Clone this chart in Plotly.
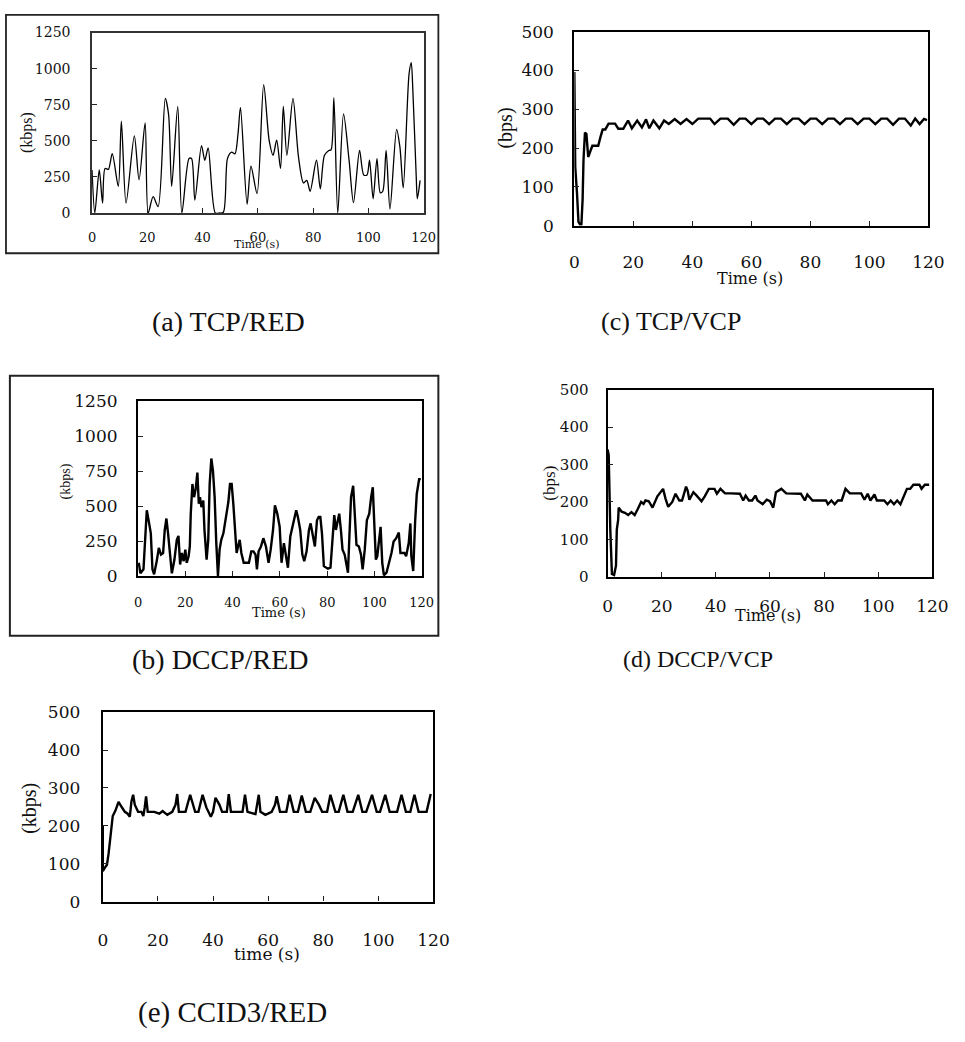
import plotly.graph_objects as go

W, H = 965, 1042

# ---------------- data ----------------
# (a) TCP/RED
a_t = [0, 1, 2.6, 3.8, 4.7, 5.9, 7.3, 9.5, 10.6, 12.3, 15.3, 17, 19.2, 20.3, 22.1, 23.9, 26.5, 27.7, 28.8,
       31, 32.5, 35.1, 36, 37.2, 39.6, 40.8, 42, 44.6, 46, 47.5, 49, 50.5, 51.7, 52.8, 53.7, 56.1, 57.5, 59.7,
       62.1, 64.1, 65.5, 66.8, 68.2, 69.2, 70.5, 72.7, 74.7, 76.5, 77.7, 78.9, 81.2, 82.6, 84.1, 85.7, 86.5,
       87.5, 88.9, 91, 93, 94.6, 96.8, 98.3, 99.5, 100.4, 101.7, 103.1, 104.3, 105.2, 106.4, 107.8, 110.2,
       111.4, 112.6, 114.7, 115.5, 116.1, 117.3, 117.7, 118.7]
a_v = [298, 0, 298, 68, 309, 302, 411, 185, 636, 68, 535, 230, 625, 0, 113, 45, 794, 681, 185,
       738, 0, 377, 377, 90, 467, 365, 451, 0, 0, 5, 377, 422, 410, 546, 731, 61, 325, 135,
       889, 501, 400, 505, 309, 738, 400, 794, 388, 208, 226, 151, 366, 167, 400, 433, 438,
       799, 0, 686, 366, 72, 433, 264, 264, 366, 99, 377, 140, 151, 433, 27, 580,
       456, 174, 963, 1042, 839, 253, 99, 226]

# (b) DCCP/RED
b_t = [0.3, 1, 2.3, 3, 3.7, 4.7, 5.4, 6.1, 6.8, 7.9, 8.8, 9.7, 10.6, 11.3, 12, 12.7, 13.8, 14.3, 15.4, 16.4,
       17.1, 17.8, 18.5, 19.3, 20, 20.6, 21.4, 21.9, 22.3, 23, 23.7, 24.4, 25.1, 25.7, 26.2, 26.8, 27.6, 28.1,
       29, 29.7, 30.3, 31, 31.7, 32.4, 33.1, 33.8, 34.5, 35.2, 36.1, 37.2, 38.2, 38.9, 39.6, 40.3, 41, 41.7,
       42.3, 43, 43.7, 44.7, 45.8, 46.9, 47.9, 48.8, 49.7, 50.3, 51, 52, 53, 54.1, 55.2, 56.1, 57.1, 57.9,
       58.9, 59.9, 60.7, 61.7, 62.6, 63.4, 64.4, 65.1, 66.2, 66.9, 67.6, 68.6, 69.5, 70.3, 71.3, 72.3, 73,
       73.7, 74.8, 75.7, 76.4, 77.1, 77.8, 78.6, 80.3, 81.4, 82.3, 83, 83.7, 84.4, 85.1, 85.8, 86.5, 87.4,
       88.8, 89.4, 90.1, 91, 91.7, 92.4, 93.4, 94.3, 95, 95.9, 96.8, 97.8, 98.6, 99.3, 99.9, 100.6, 101.2,
       101.9, 102.6, 103.3, 104, 105.1, 106.2, 107.2, 108.1, 109.2, 110.3, 111, 112.7, 113.4, 114.5, 115.2,
       115.6, 116.4, 117.2, 117.9, 118.9, 119.6]
b_v = [94, 19, 47, 305, 470, 376, 305, 47, 12, 106, 200, 153, 164, 329, 411, 305, 94, 19, 117, 258,
       287, 82, 164, 106, 188, 94, 141, 211, 446, 658, 564, 623, 740, 517, 564, 493, 540, 329,
       117, 258, 658, 841, 752, 564, 235, 0, 188, 258, 305, 423, 529, 658, 658, 517, 352, 164,
       211, 258, 164, 94, 94, 94, 176, 176, 153, 47, 176, 211, 270, 211, 94, 188, 329, 505,
       446, 352, 94, 235, 141, 59, 282, 329, 423, 470, 423, 329, 153, 106, 176, 329, 376,
       305, 211, 399, 423, 423, 305, 70, 52, 59, 258, 435, 329, 399, 446, 329, 188, 153,
       23, 282, 564, 646, 423, 223, 211, 153, 47, 188, 399, 446, 564, 635, 388, 117, 141,
       235, 352, 94, 5, 23, 94, 164, 247, 270, 310, 164, 164, 141, 235, 376,
       141, 35, 388, 587, 693, 693]

# (c) TCP/VCP
c_t = [0, 0.3, 0.9, 1.4, 1.9, 2.4, 2.8, 3.1, 3.6, 4.1, 4.7, 5.5, 6.1, 7.2, 8.1, 8.8, 9.6, 10.5, 11.6, 12.7,
       13.8, 14.9, 16.6, 18.2, 19.5, 21.3, 22.9, 24.3, 25.4, 26.8, 28.8, 30.4, 32, 34, 36, 38, 40, 42, 44,
       46, 47.5, 49.5, 52, 54, 56, 58, 60, 62, 64, 66, 68, 70, 72, 74, 76, 78, 80, 82, 84, 86, 88, 90, 92,
       94, 96, 98, 100, 102, 104, 106, 108, 110, 112, 114, 115.5, 117, 118.5, 119.5]
c_v = [396, 152, 84, 10, 4, 4, 67, 168, 240, 236, 177, 194, 206, 206, 206, 227, 248, 248, 263, 263,
       263, 250, 250, 271, 251, 271, 253, 274, 251, 271, 251, 271, 262, 275, 262, 275, 262, 276, 276,
       276, 262, 276, 276, 260, 276, 276, 262, 276, 276, 262, 276, 276, 262, 276, 276, 262, 276, 276,
       262, 276, 276, 262, 276, 276, 262, 276, 276, 262, 276, 276, 260, 276, 276, 258, 276, 262, 275, 272]

# (d) DCCP/VCP
d_t = [0, 0.4, 1, 1.6, 2.4, 3.1, 3.4, 3.9, 4.1, 5.2, 6.4, 7.6, 8.8, 10, 11.2, 12.4, 13.3, 14, 15.2, 16.6,
       18.4, 20.5, 21.4, 22.4, 23.9, 25.1, 26.5, 27.5, 29, 29.6, 30.2, 31.7, 32.9, 34.7, 35.9, 37.4, 39.5,
       40.4, 41.7, 43.4, 45.5, 48.9, 50.1, 51, 52.2, 53.4, 54.6, 55.4, 57.3, 58.8, 60, 61.2, 62.2, 64.2,
       66, 69.6, 71.4, 72.9, 73.8, 75.7, 78.1, 80.7, 81.4, 82.7, 83.9, 85.1, 86.5, 87.9, 89.5, 92.5, 93.7,
       94.9, 96.1, 97.1, 98.6, 99.5, 102.2, 103.4, 104.6, 105.8, 107, 108.2, 109.4, 110.6, 111.8, 113,
       115.2, 116, 117.2, 118.8]
d_v = [340, 326, 126, 8, 5, 30, 126, 152, 185, 174, 171, 165, 173, 165, 182, 200, 195, 204, 202, 185,
       215, 235, 209, 187, 200, 222, 204, 204, 241, 230, 206, 226, 217, 202, 215, 235, 235,
       222, 235, 223, 223, 222, 204, 217, 204, 204, 217, 204, 194, 206, 202, 185, 226, 235,
       223, 223, 222, 204, 220, 204, 204, 204, 194, 204, 194, 204, 204, 235, 223, 223, 223,
       206, 222, 204, 220, 204, 204, 194, 204, 194, 204, 194, 215, 235, 235, 246,
       246, 235, 246, 246]

# (e) CCID3/RED
e_t = [0, 0, 0.7, 1.5, 2.1, 2.7, 3.1, 3.6, 4.5, 5.7, 6.9, 8, 9, 9.8, 10.4, 11, 11.6, 12.8, 14, 14.7, 15.2,
       15.7, 16.3, 18.7, 20.5, 21.7, 23.4, 25.2, 26.4, 27, 27.6, 30, 31.7, 33.5, 34.7, 36.2, 37.6, 39.2, 40,
       40.9, 42.3, 43.3, 45, 45.7, 46.5, 50.7, 51.6, 52.5, 55.4, 56.6, 57.2, 59, 61.3, 62.5, 63.1, 64.3,
       66.6, 67.8, 69.3, 70.8, 72.2, 73.7, 75.3, 76.9, 78.4, 79.6, 81.4, 82.6, 84.4, 85.6, 87.3, 88.8,
       90.7, 92.7, 94.2, 95.6, 97.7, 99.4, 100.6, 102.5, 104.1, 106.8, 108.4, 110, 111.6, 113.1, 114.6,
       117.5, 119]
e_v = [200, 80, 89, 97, 127, 170, 200, 226, 239, 263, 249, 237, 232, 224, 265, 282, 256, 237, 237, 226, 248,
       278, 237, 237, 232, 239, 229, 237, 256, 284, 237, 237, 282, 237, 237, 282, 248, 224, 237,
       274, 256, 237, 237, 284, 237, 237, 282, 237, 231, 282, 237, 229, 237, 256, 278, 237,
       237, 282, 237, 237, 280, 237, 237, 274, 256, 237, 237, 282, 237, 237, 282, 237,
       237, 282, 237, 237, 282, 237, 237, 282, 237, 237, 282, 237, 237, 282, 237,
       237, 284]

x_ticks = [0, 20, 40, 60, 80, 100, 120]
y_ticks_red = [0, 250, 500, 750, 1000, 1250]
y_ticks_vcp = [0, 100, 200, 300, 400, 500]

# ---------------- layout helpers ----------------
def px_x(x0, x1):
    return [x0 / W, x1 / W]

def px_y(top, bottom):
    return [1 - bottom / H, 1 - top / H]

SERIF = "Liberation Serif"
DSERIF = "DejaVu Serif"

panels = [
    dict(t=a_t, v=a_v, xd=px_x(89, 428), yd=px_y(23, 207), yt=y_ticks_red, ymax=1250, lw=1.3,
         bw=1.5, bc="#333", xf=13, yf=14, xs=12, ys=17, shape="spline"),
    dict(t=b_t, v=b_v, xd=px_x(136, 426), yd=px_y(399, 577), yt=y_ticks_red, ymax=1250, lw=2.4,
         bw=2.2, bc="#000", xf=13, yf=17, xs=13, ys=15, shape="linear"),
    dict(t=c_t, v=c_v, xd=px_x(582, 944), yd=px_y(22, 220), yt=y_ticks_vcp, ymax=500, lw=2.4,
         bw=2.2, bc="#000", xf=17, yf=17, xs=20, ys=15, shape="linear"),
    dict(t=d_t, v=d_v, xd=px_x(616, 948), yd=px_y(387, 578), yt=y_ticks_vcp, ymax=500, lw=2.4,
         bw=2.2, bc="#000", xf=17, yf=15, xs=13, ys=14, shape="linear"),
    dict(t=e_t, v=e_v, xd=px_x(100, 438), yd=px_y(716, 909), yt=y_ticks_vcp, ymax=500, lw=2.4,
         bw=2.2, bc="#000", xf=17, yf=17, xs=22, ys=17, shape="linear"),
]

fig = go.Figure()
layout = dict(width=W, height=H, margin=dict(l=0, r=0, t=0, b=0),
              paper_bgcolor="white", plot_bgcolor="white", showlegend=False)

for i, p in enumerate(panels, start=1):
    xa = "x" if i == 1 else f"x{i}"
    ya = "y" if i == 1 else f"y{i}"
    fig.add_trace(go.Scatter(x=p["t"], y=p["v"], mode="lines", xaxis=xa, yaxis=ya,
                             line=dict(color="black", width=p["lw"], shape=p["shape"], smoothing=0.8)))
    xkey = "xaxis" if i == 1 else f"xaxis{i}"
    ykey = "yaxis" if i == 1 else f"yaxis{i}"
    layout[xkey] = dict(domain=p["xd"], anchor=ya, range=[0, 120], tickvals=x_ticks,
                        ticks="inside", ticklen=5, tickwidth=1.2, tickcolor="#222",
                        showline=True, mirror=True, linecolor=p["bc"], linewidth=p["bw"],
                        showgrid=False, zeroline=False, ticklabelstandoff=p["xs"],
                        tickfont=dict(family=DSERIF, size=p["xf"], color="#111"))
    layout[ykey] = dict(domain=p["yd"], anchor=xa, range=[0, p["ymax"]], tickvals=p["yt"],
                        ticks="inside", ticklen=5, tickwidth=1.2, tickcolor="#222",
                        showline=True, mirror=True, linecolor=p["bc"], linewidth=p["bw"],
                        showgrid=False, zeroline=False, ticklabelstandoff=p["ys"],
                        tickfont=dict(family=DSERIF, size=p["yf"], color="#111"))

fig.update_layout(**layout)

# axis titles and captions (pixel positions converted to paper coords)
def ann(text, x, y, size, angle=0, family=SERIF):
    fig.add_annotation(text=text, x=x / W, y=1 - y / H, xref="paper", yref="paper",
                       xanchor="center", yanchor="middle", showarrow=False, textangle=angle,
                       font=dict(family=family, size=size, color="#111"))

ann("(kbps)", 22, 125, 16, -90)
ann("Time (s)", 258, 239, 11, family=DSERIF)
ann("(kbps)", 62, 481, 14, -90)
ann("Time (s)", 280, 614, 13, family=DSERIF)
ann("(bps)", 512, 120, 20, -90)
ann("Time (s)", 762, 274, 16, family=DSERIF)
ann("(bps)", 557, 482, 17, -90)
ann("Time (s)", 780, 617, 16, family=DSERIF)
ann("(kbps)", 25, 814, 20, -90)
ann("time (s)", 268, 962, 17, family=DSERIF)

ann("(a) TCP/RED", 228, 318, 28)
ann("(c) TCP/VCP", 681, 318, 26)
ann("(b) DCCP/RED", 220, 662, 28)
ann("(d) DCCP/VCP", 708, 662, 24)
ann("(e) CCID3/RED", 233, 1022, 29)

# outer frames around (a) and (b)
fig.add_shape(type="rect", xref="paper", yref="paper", x0=1 / W, x1=443 / W,
              y0=1 - 248 / H, y1=1 - 5 / H, line=dict(color="#222", width=1.8))
fig.add_shape(type="rect", xref="paper", yref="paper", x0=5 / W, x1=443 / W,
              y0=1 - 638 / H, y1=1 - 373 / H, line=dict(color="#222", width=2))

fig.write_html("out.html")
